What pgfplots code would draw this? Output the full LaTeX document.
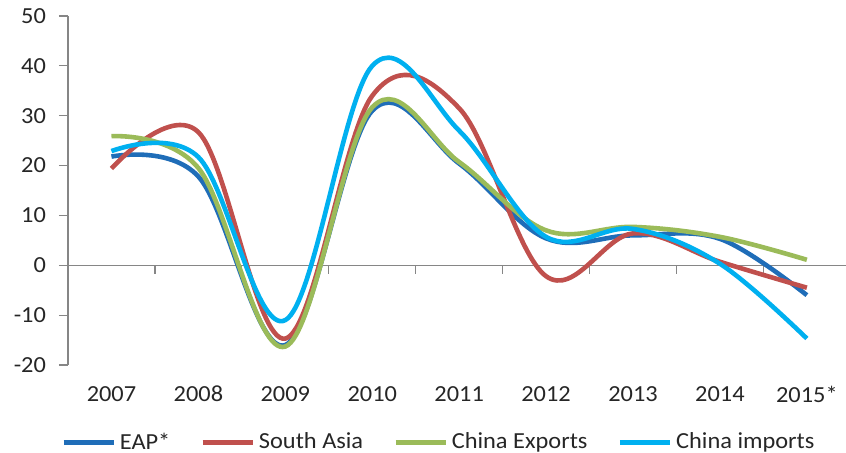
\documentclass[border=0pt]{standalone}
\usepackage{pgfplots}
\pgfplotsset{compat=1.18}
\usepackage{fontspec}
\setmainfont{Carlito}[FakeStretch=1.06]

\definecolor{eap}{HTML}{1F6DB8}
\definecolor{sasia}{HTML}{C0504D}
\definecolor{chexp}{HTML}{9BBB59}
\definecolor{chimp}{HTML}{00B0F0}
\definecolor{axisgray}{HTML}{868686}
\definecolor{labelgray}{HTML}{262626}

\begin{document}
\begin{tikzpicture}
\useasboundingbox (0,0) rectangle (423pt,226.5pt);
\begin{axis}[
  at={(34pt,44pt)}, anchor=south west,
  scale only axis, width=389pt, height=174.5pt,
  xmin=-0.5, xmax=8.45, ymin=-20, ymax=50,
  axis x line*=bottom, axis y line*=left,
  axis line style={-},
  x axis line style={draw=none},
  y axis line style={axisgray, line width=0.6pt},
  xtick={0,...,8},
  xticklabels={2007,2008,2009,2010,2011,2012,2013,2014,2015*},
  ytick={-20,-10,0,10,20,30,40,50},
  yticklabels={-20,-10,0,10,20,30,40,50},
  tick align=outside,
  major tick length=4.5pt,
  major x tick style={draw=none},
  major y tick style={axisgray, line width=0.6pt},
  tick label style={font=\fontsize{11.5}{13}\selectfont, text=labelgray},
  xticklabel style={anchor=center, yshift=-10pt},
  yticklabel style={anchor=east, xshift=-3pt},
  clip=false,
  legend columns=4,
  legend style={at={(0.478,-0.222)}, anchor=center, draw=none, fill=none,
    font=\fontsize{11.5}{13}\selectfont, text=labelgray,
    /tikz/every even column/.append style={column sep=13pt},
    inner sep=0pt},
  legend image code/.code={\draw[#1] (0pt,0pt) -- (25pt,0pt);},
  every axis plot/.append style={line width=2.3pt, smooth, tension=0.6},
]
% zero line with category separators
\draw[axisgray, line width=0.6pt] (axis cs:-0.5,0) -- (axis cs:8.45,0);
\draw[axisgray, line width=0.6pt] (axis cs:0.5,0) -- ++(0pt,-4.5pt);
\draw[axisgray, line width=0.6pt] (axis cs:1.5,0) -- ++(0pt,-4.5pt);
\draw[axisgray, line width=0.6pt] (axis cs:2.5,0) -- ++(0pt,-4.5pt);
\draw[axisgray, line width=0.6pt] (axis cs:3.5,0) -- ++(0pt,-4.5pt);
\draw[axisgray, line width=0.6pt] (axis cs:4.5,0) -- ++(0pt,-4.5pt);
\draw[axisgray, line width=0.6pt] (axis cs:5.5,0) -- ++(0pt,-4.5pt);
\draw[axisgray, line width=0.6pt] (axis cs:6.5,0) -- ++(0pt,-4.5pt);
\draw[axisgray, line width=0.6pt] (axis cs:7.5,0) -- ++(0pt,-4.5pt);

\addplot[eap] coordinates {(0,21.8)(1,17.8)(2,-16.0)(3,31.0)(4,20.4)(5,5.4)(6,6.0)(7,5.3)(8,-6.0)};
\addlegendentry{EAP*}
\addplot[sasia] coordinates {(0,19.4)(1,26.7)(2,-14.7)(3,34.0)(4,31.5)(5,-2.2)(6,6.4)(7,0.7)(8,-4.5)};
\addlegendentry{South Asia}
\addplot[chexp] coordinates {(0,25.9)(1,19.5)(2,-16.3)(3,31.7)(4,20.7)(5,7.0)(6,7.7)(7,5.7)(8,1.1)};
\addlegendentry{China Exports}
\addplot[chimp] coordinates {(0,22.9)(1,21.7)(2,-11.0)(3,40.0)(4,27.0)(5,5.7)(6,7.3)(7,0.3)(8,-14.7)};
\addlegendentry{China imports}
\end{axis}
\end{tikzpicture}
\end{document}
